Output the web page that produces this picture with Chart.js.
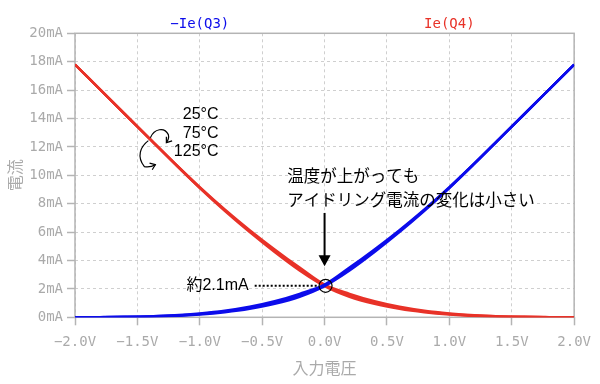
<!DOCTYPE html>
<html><head><meta charset="utf-8">
<script src="https://cdn.jsdelivr.net/npm/chart.js@4/dist/chart.umd.min.js"></script>
<style>html,body{margin:0;padding:0;background:#fff}#wrap{width:600px;height:384px;position:relative}</style>
</head><body><div id="wrap"><canvas id="c" width="600" height="384"></canvas></div>
<script>
// ---- data ----
const voltages = [-2.0,-1.8,-1.6,-1.4,-1.2,-1.0,-0.8,-0.6,-0.4,-0.2,0,0.2,0.4,0.6,0.8,1.0,1.2,1.4,1.6,1.8,2.0];
// Ie(Q4) at 25/75/125 degC (mA)
const q4_25  = [17.8,16.05,14.3,12.55,10.8,9.1,7.5,6.0,4.6,3.3,2.2,1.45,0.95,0.6,0.36,0.2,0.1,0.045,0.02,0.008,0];
const q4_75  = [17.8,16.05,14.3,12.56,10.82,9.13,7.55,6.07,4.69,3.4,2.25,1.55,1.04,0.67,0.41,0.23,0.12,0.055,0.025,0.01,0];
const q4_125 = [17.8,16.05,14.31,12.57,10.84,9.17,7.6,6.14,4.78,3.5,2.3,1.65,1.13,0.74,0.46,0.27,0.14,0.065,0.03,0.012,0];
// -Ie(Q3) at 25/75/125 degC (mA)
const q3_25  = [0,0.008,0.02,0.045,0.1,0.2,0.36,0.6,0.95,1.45,2.2,3.3,4.6,6.0,7.5,9.1,10.8,12.55,14.3,16.05,17.8];
const q3_75  = [0,0.01,0.025,0.055,0.12,0.23,0.41,0.67,1.04,1.55,2.25,3.4,4.69,6.07,7.55,9.13,10.82,12.56,14.3,16.05,17.8];
const q3_125 = [0,0.012,0.03,0.065,0.14,0.27,0.46,0.74,1.13,1.65,2.3,3.5,4.78,6.14,7.6,9.17,10.84,12.57,14.31,16.05,17.8];
const seriesNames = ['\u2212Ie(Q3)', 'Ie(Q4)'];
const xTicks = [-2.0,-1.5,-1.0,-0.5,0.0,0.5,1.0,1.5,2.0];
const yTicks = [0,2,4,6,8,10,12,14,16,18,20];
const tempLabels = ['25\u00b0C','75\u00b0C','125\u00b0C'];
const noteLines = ['温度が上がっても','アイドリング電流の変化は小さい'];
const idleLabel = '約2.1mA';
const idleValue = 2.22;

const BLUE = 'rgb(12,12,235)';
const RED = 'rgb(232,50,40)';
const GRAY = '#aaaaaa';

function pts(arr){ return voltages.map((v,i)=>({x:v,y:arr[i]})); }
function ds(arr, color){
  return {data: pts(arr), borderColor: color, backgroundColor: color, borderWidth: 2.5,
          pointRadius: 0, fill: false, cubicInterpolationMode: 'monotone'};
}
function fmtV(v){
  const s = Math.abs(v).toFixed(1) + 'V';
  return v < 0 ? '\u2212' + s : s;
}

const frame = {
  id: 'frame',
  beforeDatasetsDraw(chart){
    const {ctx, chartArea: ca} = chart;
    ctx.save();
    ctx.strokeStyle = '#b4b4b4';
    ctx.lineWidth = 1.5;
    ctx.strokeRect(ca.left, ca.top, ca.right - ca.left, ca.bottom - ca.top);
    ctx.restore();
  }
};

function arrowHead(ctx, x, y, ang, len){
  ctx.beginPath();
  ctx.moveTo(x + Math.cos(ang + 2.5) * len, y + Math.sin(ang + 2.5) * len);
  ctx.lineTo(x, y);
  ctx.lineTo(x + Math.cos(ang - 2.5) * len, y + Math.sin(ang - 2.5) * len);
  ctx.stroke();
}

const annot = {
  id: 'annot',
  afterDatasetsDraw(chart){
    const {ctx, scales: {x, y}, chartArea: ca} = chart;
    ctx.save();
    // series names
    ctx.font = "14px 'DejaVu Sans Mono', monospace";
    ctx.textAlign = 'center'; ctx.textBaseline = 'middle';
    ctx.fillStyle = BLUE; ctx.fillText(seriesNames[0], x.getPixelForValue(-1.0), ca.top - 9);
    ctx.fillStyle = RED;  ctx.fillText(seriesNames[1], x.getPixelForValue(1.0), ca.top - 9);

    // temperature labels
    ctx.fillStyle = '#000';
    ctx.font = "16px 'Liberation Sans', Arial, sans-serif";
    ctx.textAlign = 'right';
    const tx = x.getPixelForValue(-0.85), ty = y.getPixelForValue(14.25);
    tempLabels.forEach((t, i) => ctx.fillText(t, tx, ty + i * 18.5));

    // curved rotation arrow looping around the red line
    const cx = x.getPixelForValue(-1.38), cy = y.getPixelForValue(12.3);
    ctx.strokeStyle = '#000'; ctx.lineWidth = 1.2;
    ctx.beginPath();
    ctx.moveTo(cx - 2, cy - 5);
    ctx.bezierCurveTo(cx + 2, cy - 14, cx + 12, cy - 16, cx + 16, cy - 8);
    ctx.quadraticCurveTo(cx + 17, cy - 4, cx + 14, cy);
    ctx.stroke();
    arrowHead(ctx, cx + 14, cy, Math.atan2(4, -3), 6);
    ctx.beginPath();
    ctx.moveTo(cx - 4, cy - 2);
    ctx.bezierCurveTo(cx - 12, cy + 4, cx - 16, cy + 14, cx - 8, cy + 24);
    ctx.quadraticCurveTo(cx - 2, cy + 25, cx + 3, cy + 22);
    ctx.stroke();
    arrowHead(ctx, cx + 3, cy + 22, Math.atan2(-2, 5), 6);

    // note text
    ctx.font = "16.5px 'Noto Sans CJK JP', sans-serif";
    ctx.textAlign = 'left';
    const nx = x.getPixelForValue(-0.3);
    ctx.fillText(noteLines[0], nx, y.getPixelForValue(10.0));
    ctx.fillText(noteLines[1], nx, y.getPixelForValue(8.25));

    // down arrow
    const ax = x.getPixelForValue(0);
    const ay0 = y.getPixelForValue(7.35), ay1 = y.getPixelForValue(3.6);
    ctx.lineWidth = 2;
    ctx.beginPath(); ctx.moveTo(ax, ay0); ctx.lineTo(ax, ay1 - 8); ctx.stroke();
    ctx.beginPath(); ctx.moveTo(ax, ay1); ctx.lineTo(ax - 6, ay1 - 11); ctx.lineTo(ax + 6, ay1 - 11); ctx.closePath(); ctx.fill();

    // idle current label, dotted line, circle
    const iy = y.getPixelForValue(idleValue);
    ctx.font = "16px 'Liberation Sans', 'Noto Sans CJK JP', sans-serif";
    ctx.textAlign = 'right';
    ctx.fillText(idleLabel, x.getPixelForValue(-0.608), iy);
    ctx.setLineDash([2, 2]);
    ctx.lineWidth = 2;
    ctx.beginPath(); ctx.moveTo(x.getPixelForValue(-0.56), iy); ctx.lineTo(ax - 6, iy); ctx.stroke();
    ctx.setLineDash([]);
    ctx.lineWidth = 1.2;
    ctx.beginPath(); ctx.arc(ax + 1, iy, 6.5, 0, Math.PI * 2); ctx.stroke();
    ctx.restore();
  }
};

new Chart(document.getElementById('c'), {
  type: 'line',
  data: {
    datasets: [
      ds(q3_25, BLUE), ds(q3_75, BLUE), ds(q3_125, BLUE),
      ds(q4_25, RED), ds(q4_75, RED), ds(q4_125, RED)
    ]
  },
  options: {
    responsive: false, animation: false, devicePixelRatio: 1,
    layout: {padding: {left: 0, top: 33.3, right: 25, bottom: 0}},
    plugins: {legend: {display: false}, tooltip: {enabled: false}},
    scales: {
      x: {
        type: 'linear', min: -2, max: 2,
        afterFit(s){ s.height = 66.7; },
        afterBuildTicks(s){ s.ticks = xTicks.map(v => ({value: v})); },
        ticks: {callback: v => fmtV(v), color: GRAY, padding: 9, maxRotation: 0,
                font: {family: "'DejaVu Sans Mono', monospace", size: 14}},
        grid: {color: '#cfcfcf', lineWidth: 1, tickLength: 8, tickColor: '#b4b4b4', tickWidth: 1.5, tickBorderDash: []},
        border: {display: false, dash: [3, 3]},
        title: {display: true, text: '入力電圧', color: GRAY, padding: {top: 0, bottom: 6},
                font: {family: "'Noto Sans CJK JP', sans-serif", size: 16}}
      },
      y: {
        type: 'linear', min: 0, max: 20,
        afterFit(s){ s.width = 75; },
        afterBuildTicks(s){ s.ticks = yTicks.map(v => ({value: v})); },
        ticks: {callback: v => v + 'mA', color: GRAY, padding: 4,
                font: {family: "'DejaVu Sans Mono', monospace", size: 14}},
        grid: {color: '#cfcfcf', lineWidth: 1, tickLength: 8, tickColor: '#b4b4b4', tickWidth: 1.5, tickBorderDash: []},
        border: {display: false, dash: [3, 3]},
        title: {display: true, text: '電流', color: GRAY, padding: {top: 5, bottom: 0},
                font: {family: "'Noto Sans CJK JP', sans-serif", size: 16}}
      }
    }
  },
  plugins: [frame, annot]
});
</script>
</body></html>
